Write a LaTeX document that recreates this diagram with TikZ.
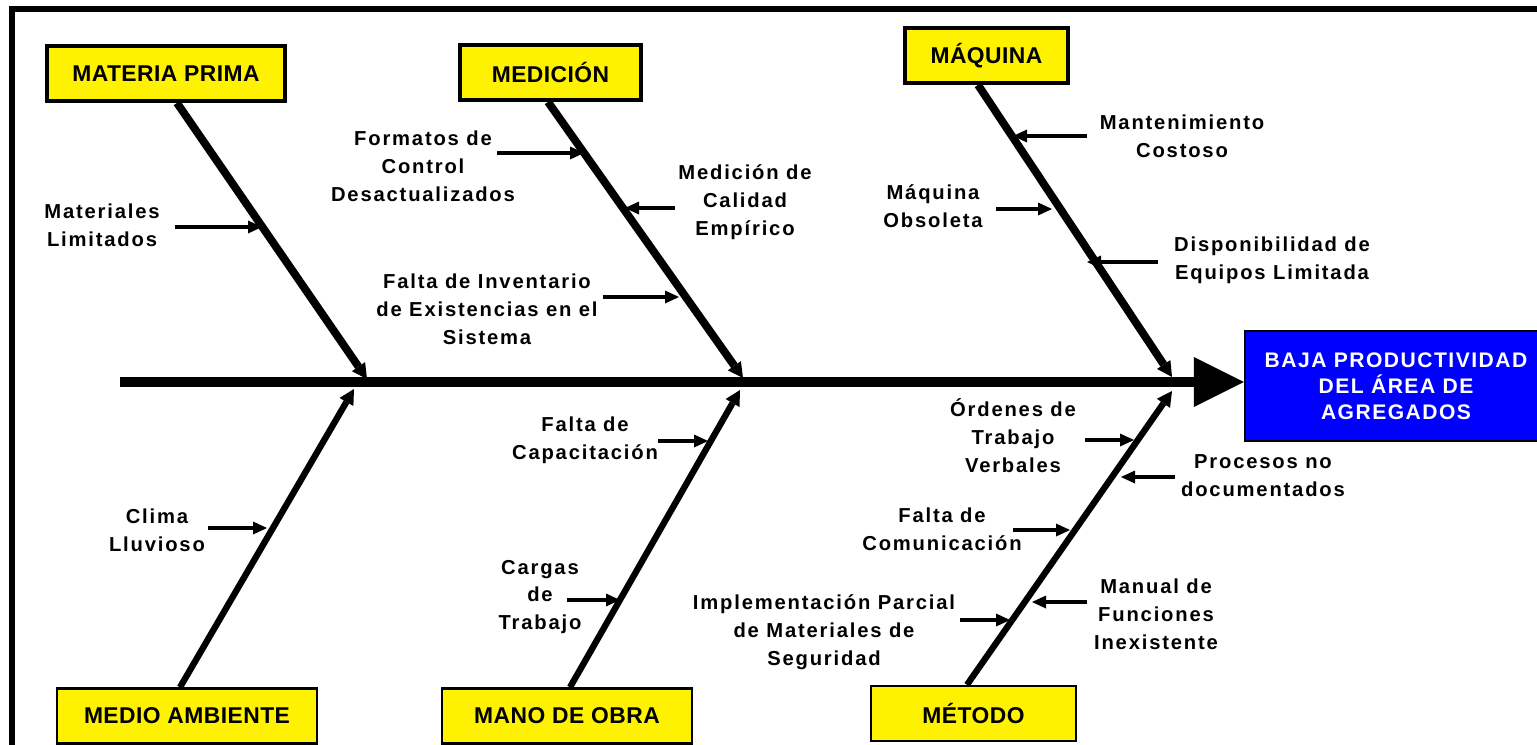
\documentclass[tikz,border=0pt]{standalone}
\usepackage{fontspec}
\setmainfont{Liberation Sans}
\newfontfamily\causefont[LetterSpace=9]{Liberation Sans}
\newfontfamily\boxfont[LetterSpace=2]{Liberation Sans}
\newfontfamily\effectfont[LetterSpace=7]{Liberation Sans}
\usetikzlibrary{arrows.meta,positioning}

\tikzset{
  catbox/.style={draw=black, fill=yellow, line width=2.2pt, inner sep=0pt,
    minimum height=1.1cm, font=\boxfont\bfseries\fontsize{13}{15}\selectfont},
  catboxlow/.style={catbox, line width=1.4pt},
  effectbox/.style={draw=black, fill=blue, line width=1.4pt, text=white, align=center,
    minimum width=6.04cm, minimum height=2.2cm,
    font=\effectfont\bfseries\fontsize{12}{14.7}\selectfont},
  lbl/.style={align=center, inner sep=0pt,
    font=\causefont\bfseries\fontsize{11.5}{15.9}\selectfont},
  cause/.style={line width=2.4pt, -{Triangle[length=0.28cm,width=0.26cm,line width=0pt]}},
  bone/.style={line width=4.5pt, -{Triangle[length=0.3cm,width=0.32cm,line width=0pt]}},
  bonelow/.style={bone, line width=3.6pt},
  spine/.style={line width=6.2pt, -{Triangle[length=1cm,width=1cm,line width=0pt]}}
}

\begin{document}
\begin{tikzpicture}[x=0.02cm, y=-0.02cm]
  \useasboundingbox (0,0) rectangle (1537,744);
  % frame
  \draw[line width=0.12cm, line join=miter] (12,770) -- (12,9) -- (1570,9);

  % categories and effect
  \node[catbox, minimum width=4.76cm] (mp)  at (166,73.5)  {MATERIA PRIMA};
  \node[catbox, minimum width=3.62cm] (med) at (550.5,72.5) {MEDICIÓN};
  \node[catbox, minimum width=3.26cm] (maq) at (986.5,55.5) {MÁQUINA};
  \node[catboxlow, minimum width=5.2cm]  (ma)  at (187,716)   {MEDIO AMBIENTE};
  \node[catboxlow, minimum width=5.0cm]  (mo)  at (567,716)   {MANO DE OBRA};
  \node[catboxlow, minimum width=4.1cm]  (met) at (973.5,713.5) {MÉTODO};
  \node[effectbox] (effect) at (1396,386) {BAJA PRODUCTIVIDAD\\DEL ÁREA DE\\AGREGADOS};

  % spine
  \coordinate (tail) at (120,382);
  \draw[spine] (tail) -- (effect.west |- tail);

  % bones
  \coordinate (j1) at (367,379);
  \coordinate (j2) at (743,378);
  \coordinate (j3) at (1172,377);
  \coordinate (k1) at (354,389);
  \coordinate (k2) at (740,390);
  \coordinate (k3) at (1172,391);
  \draw[bone] ([xshift=0.22cm]mp.south) -- (j1);
  \draw[bone] ([xshift=-0.05cm]med.south) -- (j2);
  \draw[bone] ([xshift=-0.17cm]maq.south) -- (j3);
  \draw[bonelow] ([xshift=-0.14cm]ma.north) -- (k1);
  \draw[bonelow] ([xshift=0.06cm]mo.north) -- (k2);
  \draw[bonelow] ([xshift=-0.13cm]met.north) -- (k3);

  % causes
  \node[lbl] (mat)   at (102,225)  {Materiales\\Limitados};
  \node[lbl] (form)  at (423,166)  {Formatos de\\Control\\Desactualizados};
  \node[lbl] (calid) at (745,202)  {Medición de\\Calidad\\Empírico};
  \node[lbl] (inv)   at (487,309)  {Falta de Inventario\\de Existencias en el\\Sistema};
  \node[lbl] (mant)  at (1182,136) {Mantenimiento\\Costoso};
  \node[lbl] (obs)   at (933,206)  {Máquina\\Obsoleta};
  \node[lbl] (disp)  at (1272,260) {Disponibilidad de\\Equipos Limitada};
  \node[lbl] (clima) at (157,530)  {Clima\\Lluvioso};
  \node[lbl] (capac) at (585,440)  {Falta de\\Capacitación};
  \node[lbl] (carg)  at (540,597)  {Cargas\\de\\Trabajo};
  \node[lbl] (ord)   at (1013,436) {Órdenes de\\Trabajo\\Verbales};
  \node[lbl] (proc)  at (1263,476) {Procesos no\\documentados};
  \node[lbl] (comu)  at (942,529)  {Falta de\\Comunicación};
  \node[lbl] (impl)  at (824,632)  {Implementación Parcial\\de Materiales de\\Seguridad};
  \node[lbl] (manu)  at (1156,614) {Manual de\\Funciones\\Inexistente};

  \coordinate (mat-a) at (175,227);    \coordinate (mat-b) at (262,227);
  \coordinate (form-a) at (497,153);   \coordinate (form-b) at (584,153);
  \coordinate (calid-a) at (675,208);  \coordinate (calid-b) at (625,208);
  \coordinate (inv-a) at (603,297);    \coordinate (inv-b) at (679,297);
  \coordinate (mant-a) at (1087,136);  \coordinate (mant-b) at (1013,136);
  \coordinate (obs-a) at (996,209);    \coordinate (obs-b) at (1052,209);
  \coordinate (disp-a) at (1158,262);  \coordinate (disp-b) at (1087,262);
  \coordinate (clima-a) at (208,528);  \coordinate (clima-b) at (267,528);
  \coordinate (capac-a) at (658,441);  \coordinate (capac-b) at (708,441);
  \coordinate (carg-a) at (567,600);   \coordinate (carg-b) at (620,600);
  \coordinate (ord-a) at (1085,440);   \coordinate (ord-b) at (1134,440);
  \coordinate (proc-a) at (1175,477);  \coordinate (proc-b) at (1121,477);
  \coordinate (comu-a) at (1013,530);  \coordinate (comu-b) at (1070,530);
  \coordinate (impl-a) at (960,620);   \coordinate (impl-b) at (1010,620);
  \coordinate (manu-a) at (1087,602);  \coordinate (manu-b) at (1032,602);

  \draw[cause] (mat-a) -- (mat-b);
  \draw[cause] (form-a) -- (form-b);
  \draw[cause] (calid-a) -- (calid-b);
  \draw[cause] (inv-a) -- (inv-b);
  \draw[cause] (mant-a) -- (mant-b);
  \draw[cause] (obs-a) -- (obs-b);
  \draw[cause] (disp-a) -- (disp-b);
  \draw[cause] (clima-a) -- (clima-b);
  \draw[cause] (capac-a) -- (capac-b);
  \draw[cause] (carg-a) -- (carg-b);
  \draw[cause] (ord-a) -- (ord-b);
  \draw[cause] (proc-a) -- (proc-b);
  \draw[cause] (comu-a) -- (comu-b);
  \draw[cause] (impl-a) -- (impl-b);
  \draw[cause] (manu-a) -- (manu-b);
\end{tikzpicture}
\end{document}
